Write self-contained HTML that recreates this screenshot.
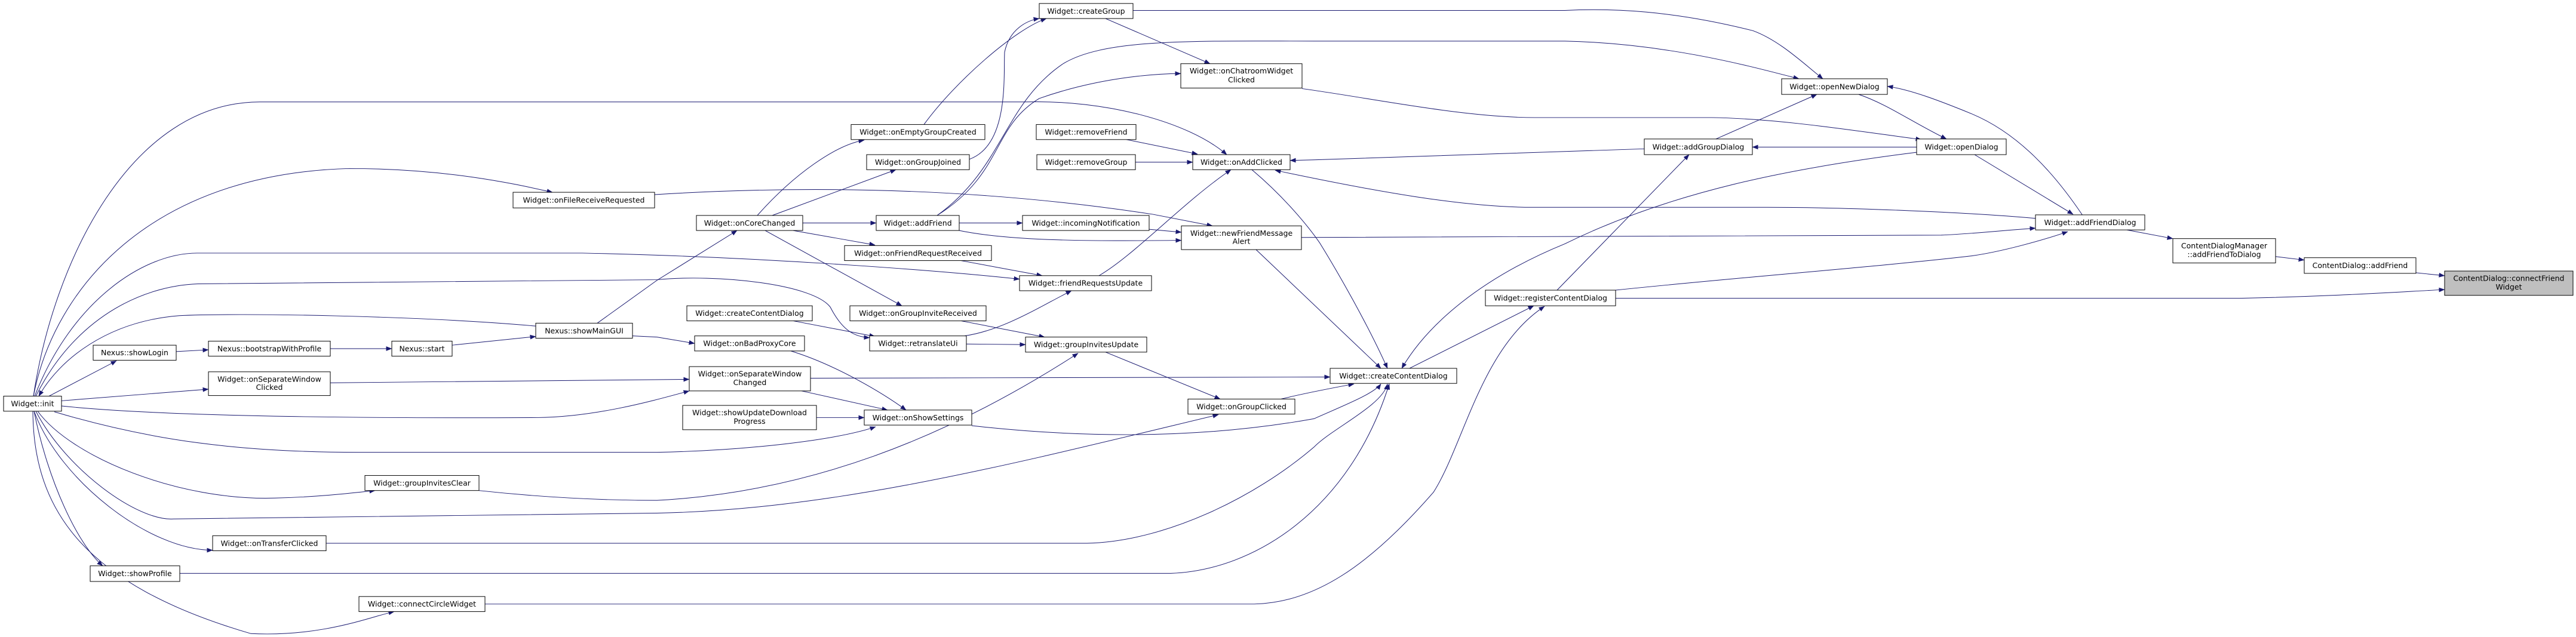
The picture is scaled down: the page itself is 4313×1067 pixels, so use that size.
<!DOCTYPE html>
<html><head><meta charset="utf-8"><style>
html,body{margin:0;padding:0;background:#fff;width:4313px;height:1067px;overflow:hidden}
svg text{font-family:"DejaVu Sans","Liberation Sans",sans-serif;font-size:12.5px;fill:#000}
</style></head><body>
<svg width="4313" height="1067" viewBox="0 0 4313 1067" xmlns="http://www.w3.org/2000/svg">
<defs><marker id="a" markerWidth="10" markerHeight="8" refX="9.5" refY="4" orient="auto" markerUnits="userSpaceOnUse"><path d="M0,0 L10,4 L0,8 z" fill="#191970"/></marker></defs>
<g transform="scale(1,0.9701)">
<g fill="none" stroke="#191970" stroke-width="1" marker-end="url(#a)">
<path d="M82,684 L195,623"/>
<path d="M295,607 L349,604"/>
<path d="M553,602 L656,602"/>
<path d="M757,596 L897,581"/>
<path d="M103,692 L349,672"/>
<path d="M1000,558 L1100,484 L1234,398"/>
<path d="M897,563 C700,545 400,540 300,545 C180,555 100,620 65,684"/>
<path d="M1059,580 L1100,582 L1163,593"/>
<path d="M56,684 C90,500 250,300 585,291 C760,291 880,322 925,332"/>
<path d="M56,684 C90,450 220,176 435,176 L1717,176 C1850,172 1990,210 2054,267"/>
<path d="M58,684 C120,520 240,437 330,437 L975,437 C1300,444 1600,470 1707,482"/>
<path d="M60,684 C130,540 250,490 340,490 L1100,483 C1200,473 1360,490 1390,530 C1410,570 1430,582 1456,583"/>
<path d="M553,661 L1154,655"/>
<path d="M103,701 C300,722 700,722 900,721 C1000,720 1100,690 1154,675"/>
<path d="M91,711 C250,760 400,781 600,781 L1100,781 C1250,778 1400,760 1466,737"/>
<path d="M63,710 C120,790 300,865 460,860 C540,858 600,850 628,847"/>
<path d="M802,847 C900,858 1000,864 1100,864 C1350,850 1580,760 1805,610"/>
<path d="M60,710 C110,810 230,900 290,896 L1100,886 C1400,880 1700,800 2040,716"/>
<path d="M57,710 C100,830 250,950 356,950"/>
<path d="M546,938 L1820,938 C1950,935 2100,860 2200,772 C2230,740 2315,700 2323,663"/>
<path d="M57,710 C80,830 130,940 172,977"/>
<path d="M301,990 L1960,990 C2100,985 2260,880 2326,663"/>
<path d="M55,710 C56,880 140,1010 420,1094 C540,1100 620,1065 660,1056"/>
<path d="M812,1043 L2100,1043 C2200,1040 2290,980 2400,850 C2450,770 2480,600 2586,529"/>
<path d="M1268,372 C1330,300 1400,250 1447,242"/>
<path d="M1293,372 L1500,293"/>
<path d="M1344,385 L1467,385"/>
<path d="M1328,398 L1465,423"/>
<path d="M1281,398 L1510,528"/>
<path d="M1547,215 C1600,140 1700,50 1752,32"/>
<path d="M1623,275 C1690,250 1680,130 1682,90 C1690,50 1720,35 1740,32"/>
<path d="M1569,372 C1680,300 1660,220 1740,170 C1850,130 1950,127 1977,127"/>
<path d="M1569,372 C1680,290 1680,180 1780,110 C1850,66 2000,71 2200,71 L2620,71 C2800,75 2950,120 3012,136"/>
<path d="M1606,385 L1712,385"/>
<path d="M1606,398 C1700,418 1850,416 1978,415"/>
<path d="M1924,396 L1978,401"/>
<path d="M1096,336 C1300,323 1600,318 1930,370 L2030,390"/>
<path d="M1609,450 L1745,476"/>
<path d="M1840,476 C1900,440 1980,350 2061,293"/>
<path d="M1328,554 L1465,581"/>
<path d="M1609,554 L1749,582"/>
<path d="M1615,580 C1680,570 1740,530 1794,502"/>
<path d="M1618,594 L1717,595"/>
<path d="M1851,608 L2043,689"/>
<path d="M1324,606 C1400,630 1480,680 1517,708"/>
<path d="M1342,675 L1486,708"/>
<path d="M1367,721 L1447,721"/>
<path d="M1627,735 C1800,755 2000,760 2200,723 C2250,700 2300,680 2312,663"/>
<path d="M1357,653 L2227,651"/>
<path d="M2145,689 C2180,680 2240,668 2267,663"/>
<path d="M2096,293 C2150,340 2190,390 2210,420 C2240,470 2290,560 2323,636"/>
<path d="M2103,431 L2312,636"/>
<path d="M1851,32 L2026,110"/>
<path d="M1897,18 L2620,18 C2700,14 2800,18 2935,53 C2980,70 3020,110 3052,136"/>
<path d="M2180,153 C2300,170 2450,203 2570,203 L2866,203 C2980,205 3100,225 3217,241"/>
<path d="M1886,241 L2005,266"/>
<path d="M1901,280 L1997,280"/>
<path d="M2753,257 L2200,276 L2160,277"/>
<path d="M3408,377 C3300,367 3100,358 2960,358 L2566,358 C2450,358 2300,330 2135,294"/>
<path d="M2179,410 L3250,406 C3300,404 3350,398 3408,394"/>
<path d="M2705,501 C2900,480 3150,460 3300,442 C3350,435 3420,415 3462,400"/>
<path d="M3306,267 L3471,370"/>
<path d="M3487,372 C3440,300 3380,230 3300,196 C3250,175 3200,155 3160,149"/>
<path d="M3112,163 C3160,180 3200,210 3259,240"/>
<path d="M2873,240 L3042,163"/>
<path d="M3209,254 L2934,254"/>
<path d="M3209,263 C3000,290 2800,330 2620,421 C2480,480 2390,560 2347,636"/>
<path d="M2607,501 L2828,267"/>
<path d="M2360,636 L2568,528"/>
<path d="M2705,515 L3750,515 C3900,512 4000,505 4093,500"/>
<path d="M3561,397 L3638,412"/>
<path d="M3810,443 L3858,449"/>
<path d="M4045,471 L4093,476"/>
</g>
<g stroke="#000" stroke-width="1" fill="#fff">
<rect x="6" y="684" width="97" height="26"/>
<rect x="156" y="596" width="139" height="26"/>
<rect x="349" y="589" width="204" height="26"/>
<rect x="656" y="589" width="101" height="26"/>
<rect x="897" y="558" width="162" height="26"/>
<rect x="349" y="642" width="204" height="41"/>
<rect x="859" y="332" width="237" height="27"/>
<rect x="611" y="821" width="191" height="26"/>
<rect x="356" y="925" width="190" height="26"/>
<rect x="151" y="977" width="150" height="27"/>
<rect x="601" y="1030" width="211" height="26"/>
<rect x="1740" y="6" width="157" height="26"/>
<rect x="1977" y="110" width="203" height="42"/>
<rect x="1425" y="215" width="224" height="26"/>
<rect x="1451" y="267" width="172" height="26"/>
<rect x="1735" y="215" width="167" height="26"/>
<rect x="1736" y="267" width="165" height="26"/>
<rect x="1997" y="267" width="163" height="26"/>
<rect x="1166" y="372" width="178" height="26"/>
<rect x="1467" y="372" width="139" height="26"/>
<rect x="1712" y="372" width="212" height="26"/>
<rect x="1978" y="390" width="201" height="41"/>
<rect x="1414" y="424" width="246" height="26"/>
<rect x="1707" y="476" width="221" height="26"/>
<rect x="1150" y="528" width="210" height="26"/>
<rect x="1423" y="528" width="228" height="26"/>
<rect x="1163" y="580" width="184" height="26"/>
<rect x="1456" y="580" width="162" height="26"/>
<rect x="1717" y="582" width="203" height="26"/>
<rect x="1154" y="633" width="203" height="42"/>
<rect x="1143" y="700" width="224" height="42"/>
<rect x="1447" y="708" width="180" height="26"/>
<rect x="1989" y="689" width="179" height="26"/>
<rect x="2983" y="136" width="177" height="27"/>
<rect x="2753" y="240" width="181" height="27"/>
<rect x="3209" y="240" width="150" height="27"/>
<rect x="2487" y="501" width="218" height="27"/>
<rect x="2227" y="636" width="212" height="26"/>
<rect x="3408" y="371" width="183" height="26"/>
<rect x="3638" y="412" width="172" height="42"/>
<rect x="3858" y="445" width="187" height="27"/>
<rect x="4093" y="468" width="215" height="42" fill="#bfbfbf"/>
</g>
<g text-anchor="middle">
<text x="54.5" y="701.5">Widget::init</text>
<text x="225.5" y="613.5">Nexus::showLogin</text>
<text x="451" y="606.5">Nexus::bootstrapWithProfile</text>
<text x="706.5" y="606.5">Nexus::start</text>
<text x="978" y="575.5">Nexus::showMainGUI</text>
<text x="451" y="659">Widget::onSeparateWindow</text><text x="451" y="673">Clicked</text>
<text x="977.5" y="350">Widget::onFileReceiveRequested</text>
<text x="706.5" y="838.5">Widget::groupInvitesClear</text>
<text x="451" y="942.5">Widget::onTransferClicked</text>
<text x="226" y="995">Widget::showProfile</text>
<text x="706.5" y="1047.5">Widget::connectCircleWidget</text>
<text x="1818.5" y="23.5">Widget::createGroup</text>
<text x="2078.5" y="127">Widget::onChatroomWidget</text><text x="2078.5" y="142">Clicked</text>
<text x="1537" y="232.5">Widget::onEmptyGroupCreated</text>
<text x="1537" y="284.5">Widget::onGroupJoined</text>
<text x="1818.5" y="232.5">Widget::removeFriend</text>
<text x="1818.5" y="284.5">Widget::removeGroup</text>
<text x="2078.5" y="284.5">Widget::onAddClicked</text>
<text x="1255" y="389.5">Widget::onCoreChanged</text>
<text x="1536.5" y="389.5">Widget::addFriend</text>
<text x="1818" y="389.5">Widget::incomingNotification</text>
<text x="2078.5" y="407">Widget::newFriendMessage</text><text x="2078.5" y="421">Alert</text>
<text x="1537" y="441.5">Widget::onFriendRequestReceived</text>
<text x="1817.5" y="493.5">Widget::friendRequestsUpdate</text>
<text x="1255" y="545.5">Widget::createContentDialog</text>
<text x="1537" y="545.5">Widget::onGroupInviteReceived</text>
<text x="1255" y="597.5">Widget::onBadProxyCore</text>
<text x="1537" y="597.5">Widget::retranslateUi</text>
<text x="1818.5" y="599.5">Widget::groupInvitesUpdate</text>
<text x="1255.5" y="650">Widget::onSeparateWindow</text><text x="1255.5" y="665">Changed</text>
<text x="1255" y="717">Widget::showUpdateDownload</text><text x="1255" y="732">Progress</text>
<text x="1537" y="725.5">Widget::onShowSettings</text>
<text x="2078.5" y="706.5">Widget::onGroupClicked</text>
<text x="3071.5" y="154">Widget::openNewDialog</text>
<text x="2843.5" y="258">Widget::addGroupDialog</text>
<text x="3284" y="258">Widget::openDialog</text>
<text x="2596" y="519">Widget::registerContentDialog</text>
<text x="2333" y="653.5">Widget::createContentDialog</text>
<text x="3499.5" y="388.5">Widget::addFriendDialog</text>
<text x="3724" y="429">ContentDialogManager</text><text x="3724" y="444">::addFriendToDialog</text>
<text x="3951.5" y="463">ContentDialog::addFriend</text>
<text x="4200.5" y="485">ContentDialog::connectFriend</text><text x="4200.5" y="500">Widget</text>
</g>
</g>
</svg>
</body></html>
